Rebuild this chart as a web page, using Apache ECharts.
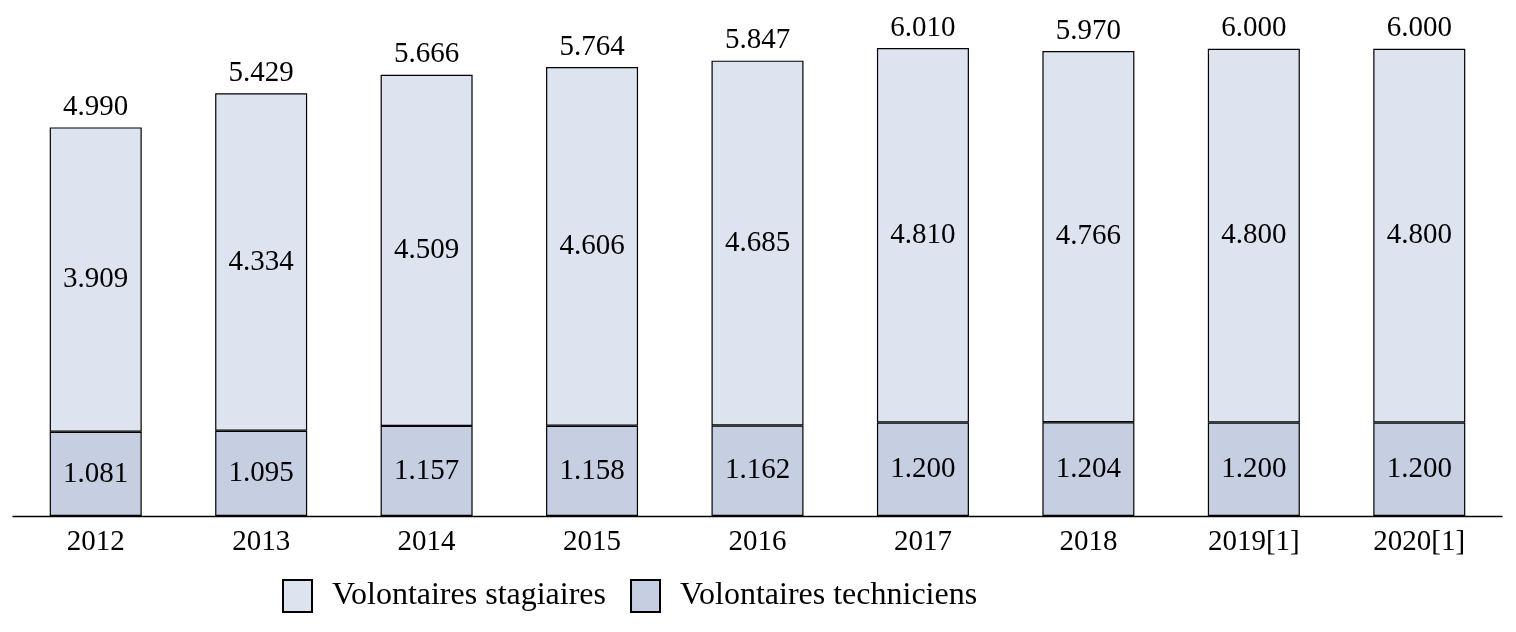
<!DOCTYPE html>
<html>
<head>
<meta charset="utf-8">
<script src="https://cdn.jsdelivr.net/npm/echarts@6/dist/echarts.min.js"></script>
<style>html,body{margin:0;padding:0;background:#fff;}#c{width:1516px;height:632px;}</style>
</head>
<body>
<div id="c"></div>
<script>
const categories = ['2012','2013','2014','2015','2016','2017','2018','2019[1]','2020[1]'];
const techniciens = [1081,1095,1157,1158,1162,1200,1204,1200,1200];
const stagiaires = [3909,4334,4509,4606,4685,4810,4766,4800,4800];
const totals = [4990,5429,5666,5764,5847,6010,5970,6000,6000];

const FONT = '"Liberation Serif", "DejaVu Serif", serif';
function fmt(v){ return String(v).replace(/\B(?=(\d{3})+(?!\d))/g,'.'); }

const chart = echarts.init(document.getElementById('c'), null, {renderer:'canvas'});
chart.setOption({
  animation:false,
  backgroundColor:'#ffffff',
  textStyle:{fontFamily:FONT,color:'#000'},
  grid:{left:13,right:14,top:2,bottom:116,containLabel:false},
  legend:{
    data:['Volontaires stagiaires','Volontaires techniciens'],
    left:282, top:579, padding:0, icon:'rect',
    itemWidth:29, itemHeight:32, itemGap:24,
    textStyle:{fontFamily:FONT,fontSize:32,color:'#000',padding:[0,0,0,15]}
  },
  xAxis:{
    type:'category', data:categories,
    axisLine:{lineStyle:{color:'#000',width:1.3}},
    axisTick:{show:false},
    axisLabel:{fontFamily:FONT,fontSize:29,color:'#000',margin:12}
  },
  yAxis:{type:'value',min:0,max:6600,show:false,splitLine:{show:false}},
  series:[
    {name:'Volontaires techniciens',type:'bar',stack:'a',barWidth:92,data:techniciens,
     itemStyle:{color:'#c5cfe1',borderColor:'#000',borderWidth:1.2},
     label:{show:true,position:'inside',fontFamily:FONT,fontSize:29,color:'#000',formatter:p=>fmt(p.value)}},
    {name:'Volontaires stagiaires',type:'bar',stack:'a',barWidth:92,data:stagiaires,
     itemStyle:{color:'#dee4ef',borderColor:'#000',borderWidth:1.2},
     label:{show:true,position:'inside',fontFamily:FONT,fontSize:29,color:'#000',formatter:p=>fmt(p.value)}},
    {name:'Total',type:'scatter',data:totals,symbol:'circle',symbolSize:1,silent:true,
     itemStyle:{opacity:0},
     label:{show:true,position:'top',distance:5,fontFamily:FONT,fontSize:29,color:'#000',opacity:1,formatter:p=>fmt(p.value)}}
  ]
});
</script>
</body>
</html>
